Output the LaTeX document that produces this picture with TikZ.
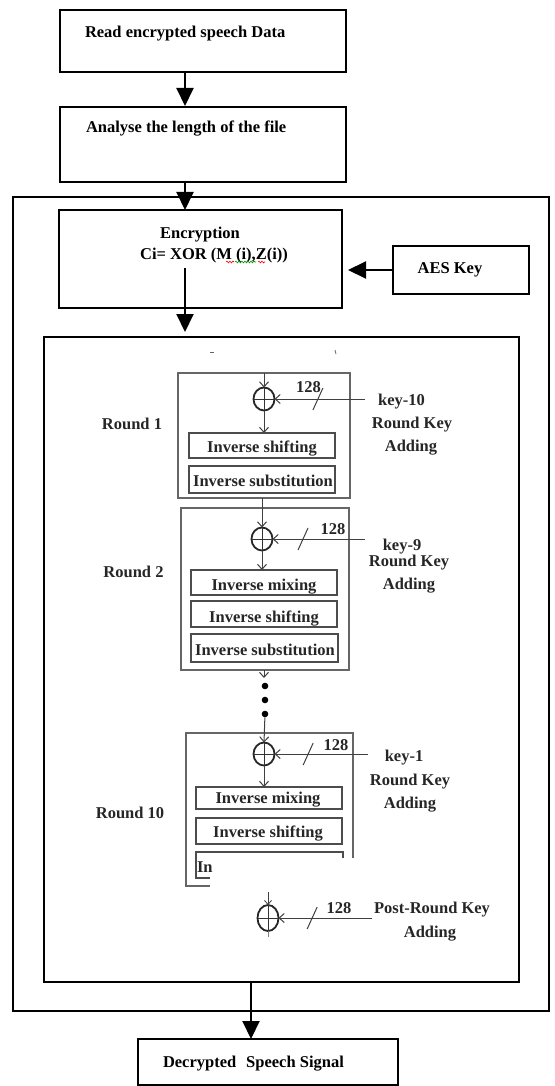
\documentclass[tikz,border=0pt]{standalone}
\usepackage{fontspec}
\setmainfont{Liberation Serif}
\usetikzlibrary{arrows.meta,calc,shapes.geometric,decorations.pathmorphing}

\begin{document}
\begin{tikzpicture}[x=1pt,y=-1pt,
  every node/.style={inner sep=0pt,outer sep=0pt},
  txt/.style={font=\fontsize{16.5}{19}\bfseries\selectfont,text=black,anchor=base},
  rtxt/.style={font=\fontsize{16.5}{19}\bfseries\selectfont,text=black!85,anchor=base},
  mainbox/.style={draw=black,line width=2pt,rectangle},
  roundbox/.style={draw=black!60,line width=1.1pt,rectangle},
  opbox/.style={draw=black!70,line width=1.4pt,rectangle},
  xorsym/.style={draw=black!85,line width=1.8pt,ellipse,minimum width=21pt,minimum height=23pt},
  xorcross/.style={draw=black!80,line width=0.8pt},
  bigarrow/.style={line width=2pt,-{Triangle[length=18pt,width=17pt]}},
  thinarrow/.style={draw=black!75,line width=1pt,-{Straight Barb[length=5pt,width=9pt]}},
  busmark/.style={draw=black!75,line width=1pt},
  squig/.style={line width=0.6pt,decorate,decoration={snake,amplitude=0.9pt,segment length=3pt}},
]
\useasboundingbox (0,0) rectangle (554,1086);
\fill[white] (0,0) rectangle (554,1086);

% ---------- outer frames ----------
\node[mainbox,minimum width=536pt,minimum height=814pt] (outer) at (281,604) {};
\node[mainbox,minimum width=475pt,minimum height=645pt] (inner) at (281.5,659.5) {};

% ---------- main flow boxes ----------
\node[mainbox,minimum width=286pt,minimum height=62pt] (read) at (203,41) {};
\node[txt,anchor=base west] (readt) at (85,38) {Read encrypted speech Data};

\node[mainbox,minimum width=286pt,minimum height=75pt] (ana) at (203,144.5) {};
\node[txt,anchor=base west] (anat) at (86,133) {Analyse the length of the file};

\node[mainbox,minimum width=283pt,minimum height=98pt] (enc) at (200.5,259) {};
\node[txt] (enct1) at (200,238) {Encryption};
\node[txt] (enct2) at (214,259) {Ci= XOR (M (i),Z(i))};
% spell-check underlines
\draw[red,squig] (226,262) -- (234,262);
\draw[green!60!black,squig] (235,262) -- (256,262);
\draw[red,squig] (258,262) -- (265,262);

\node[mainbox,minimum width=136pt,minimum height=48pt] (aes) at (461,270) {};
\node[txt] (aest) at (450,273) {AES Key};

\node[mainbox,minimum width=260pt,minimum height=46pt] (dec) at (268,1062) {};
\node[txt,anchor=base west] (dect) at (163,1067) {Decrypted\hspace{0.6em}Speech Signal};

% ---------- main connectors ----------
\coordinate (c1) at (185,0);
\coordinate (c2) at (251,0);
\coordinate (encout) at (185,268);
\draw[bigarrow] (read.south -| c1) -- ($(ana.north -| c1)+(0,-1)$);
\draw[bigarrow] (ana.south -| c1) -- (enc.north -| c1);
\draw[bigarrow] (encout) -- ($(inner.north -| c1)+(0,-5)$);
\draw[bigarrow] (aes.west) -- ($(enc.east |- aes.west)+(6,0)$);
\draw[bigarrow] (inner.south -| c2) -- (dec.north -| c2);

% small marks at the top of the round panel
\draw[black!60,line width=0.8pt] (210,352) -- (214,352);
\draw[black!60,line width=0.8pt] (335,350) -- (336,354);

% ---------- Round 1 ----------
\node[roundbox,minimum width=172pt,minimum height=125pt] (r1) at (264,435.5) {};
\node[opbox,minimum width=146pt,minimum height=25pt] (r1a) at (262,445.5) {};
\node[opbox,minimum width=146pt,minimum height=27pt] (r1b) at (262,479.5) {};
\node[rtxt] (r1at) at (262,452) {Inverse shifting};
\node[rtxt] (r1bt) at (263,486) {Inverse substitution};
\node[xorsym] (x1) at (264,399) {};
\draw[xorcross] (x1.north) -- (x1.south) (x1.west) -- (x1.east);
\coordinate (k1) at (365,399);
\draw[thinarrow] (r1.north -| x1) -- (x1.north);
\draw[thinarrow] (x1.south) -- (r1a.north -| x1);
\draw[thinarrow] (k1) -- (x1.east);
\draw[busmark] ($(x1.east)!0.48!(k1)$) +(-5,11) -- +(5,-11);
\node[rtxt] (r1n) at (308.5,392) {128};
\node[rtxt] (r1l) at (132,429) {Round 1};
\node[rtxt] (r1k) at (401.5,405) {key-10};
\node[rtxt] (r1k2) at (412,428) {Round Key};
\node[rtxt] (r1k3) at (411,451) {Adding};

% ---------- Round 2 ----------
\node[roundbox,minimum width=168pt,minimum height=162pt] (r2) at (265,589) {};
\node[opbox,minimum width=146pt,minimum height=25pt] (r2a) at (264,582.5) {};
\node[opbox,minimum width=146pt,minimum height=26pt] (r2b) at (264,614) {};
\node[opbox,minimum width=147pt,minimum height=28pt] (r2c) at (264.5,648) {};
\node[rtxt] (r2at) at (264,590) {Inverse mixing};
\node[rtxt] (r2bt) at (264,622) {Inverse shifting};
\node[rtxt] (r2ct) at (265,655) {Inverse substitution};
\node[xorsym] (x2) at (262,539) {};
\draw[xorcross] (x2.north) -- (x2.south) (x2.west) -- (x2.east);
\coordinate (k2) at (365,539);
\draw[thinarrow] (r1.south -| x2) -- (x2.north);
\draw[thinarrow] (x2.south) -- (r2a.north -| x2);
\draw[thinarrow] (k2) -- (x2.east);
\draw[busmark] ($(x2.east)!0.33!(k2)$) +(-5,11) -- +(5,-11);
\node[rtxt] (r2n) at (333,534) {128};
\node[rtxt] (r2l) at (133.5,577) {Round 2};
\node[rtxt] (r2k) at (402,550) {key-9};
\node[rtxt] (r2k2) at (409,566) {Round Key};
\node[rtxt] (r2k3) at (409,589) {Adding};

% ---------- dots between rounds ----------
\coordinate (c3) at (264,0);
\coordinate (r2end) at (264,678);
\draw[thinarrow] (r2.south -| c3) -- (r2end);
\node[circle,fill=black,minimum size=6.6pt] (d1) at (265,686) {};
\node[circle,fill=black,minimum size=6.6pt] (d2) at (265,700) {};
\node[circle,fill=black,minimum size=6.6pt] (d3) at (265,714) {};

% ---------- Round 10 ----------
\node[roundbox,minimum width=167pt,minimum height=153pt] (r10) at (269.5,809.5) {};
\node[opbox,minimum width=146pt,minimum height=22pt] (r10a) at (269,798) {};
\node[opbox,minimum width=146pt,minimum height=26pt] (r10b) at (269,831) {};
\node[opbox,minimum width=147pt,minimum height=26pt] (r10c) at (269.5,865) {};
\node[rtxt] (r10at) at (268,803) {Inverse mixing};
\node[rtxt] (r10bt) at (268,837) {Inverse shifting};
\node[xorsym] (x10) at (264,754) {};
\draw[xorcross] (x10.north) -- (x10.south) (x10.west) -- (x10.east);
\coordinate (k10) at (368,754);
\draw[thinarrow] (d3) -- (x10.north);
\draw[thinarrow] (x10.south) -- (r10a.north -| x10);
\draw[thinarrow] (k10) -- (x10.east);
\draw[busmark] ($(x10.east)!0.36!(k10)$) +(-5,11) -- +(5,-11);
\node[rtxt] (r10n) at (336,750) {128};
\node[rtxt] (r10l) at (130,818) {Round 10};
\node[rtxt] (r10k) at (404,761) {key-1};
\node[rtxt] (r10k2) at (410,785) {Round Key};
\node[rtxt] (r10k3) at (410,808) {Adding};
% lower part of the last round is blanked out
\fill[white] (210,858) rectangle (362,890);
\node[rtxt,anchor=base west] (r10ct) at (197,872) {In};

% ---------- post-round key adding ----------
\node[xorsym,minimum height=26pt] (xp) at (268,918) {};
\draw[xorcross] (xp.north) -- (xp.south) (xp.west) -- (xp.east);
\coordinate (pin) at (268,892);
\coordinate (pout) at (268,937);
\coordinate (kp) at (372,918);
\draw[thinarrow,line width=0.8pt,-{Straight Barb[length=4pt,width=7pt]}] (pin) -- (xp.north);
\draw[black!50,line width=0.8pt] (xp.south) -- (pout);
\draw[thinarrow] (kp) -- (xp.east);
\draw[busmark] ($(xp.east)!0.36!(kp)$) +(-5,11) -- +(5,-11);
\node[rtxt] (pn) at (339,913) {128};
\node[rtxt] (pk) at (432,913) {Post-Round Key};
\node[rtxt] (pk2) at (430,937) {Adding};
\end{tikzpicture}
\end{document}
